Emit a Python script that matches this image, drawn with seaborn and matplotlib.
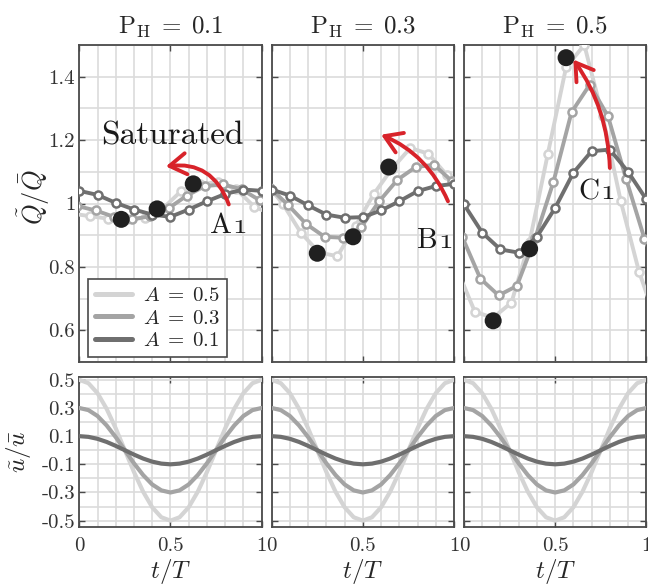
import numpy as np
import pandas as pd
import matplotlib
matplotlib.use("Agg")
import matplotlib.pyplot as plt
import seaborn as sns
from matplotlib.lines import Line2D
from matplotlib.patches import FancyArrowPatch
from matplotlib.ticker import MultipleLocator

# ---------------- data ----------------
ph_labels = ["0.1", "0.3", "0.5"]
amp_labels = ["0.5", "0.3", "0.1"]
amp_colors = ["#d4d4d4", "#a4a4a4", "#6f6f6f"]

# sample phases (t/T) of the measured points for each forcing amplitude
t_a05 = [-0.04, 0.06, 0.16, 0.26, 0.36, 0.46, 0.56, 0.66, 0.76, 0.86, 0.96, 1.06]
t_a03 = [-0.01, 0.09, 0.19, 0.29, 0.39, 0.49, 0.59, 0.69, 0.79, 0.89, 0.99, 1.09]
t_a01 = [0.0, 0.1, 0.2, 0.3, 0.4, 0.5, 0.6, 0.7, 0.8, 0.9, 1.0]

# heat release response Q~/Q-  (P_H = 0.1)
q_p01_a05 = [0.968, 0.960, 0.952, 0.950, 0.955, 0.985, 1.040, 1.060, 1.068, 1.045, 0.990, 0.965]
q_p01_a03 = [0.992, 0.978, 0.958, 0.950, 0.960, 0.985, 1.025, 1.055, 1.060, 1.045, 1.010, 0.985]
q_p01_a01 = [1.040, 1.027, 1.002, 0.981, 0.965, 0.958, 0.981, 1.007, 1.030, 1.044, 1.040]
# (P_H = 0.3)
q_p03_a05 = [1.070, 1.000, 0.908, 0.845, 0.834, 0.929, 1.030, 1.110, 1.175, 1.157, 1.090, 1.010]
q_p03_a03 = [1.050, 0.995, 0.935, 0.895, 0.892, 0.925, 1.007, 1.075, 1.115, 1.122, 1.070, 1.020]
q_p03_a01 = [1.044, 1.025, 0.994, 0.965, 0.955, 0.957, 0.978, 1.007, 1.039, 1.055, 1.062]
# (P_H = 0.5)
q_p05_a05 = [0.795, 0.658, 0.640, 0.687, 0.880, 1.157, 1.430, 1.500, 1.277, 1.007, 0.785, 0.620]
q_p05_a03 = [0.895, 0.763, 0.710, 0.740, 0.890, 1.067, 1.288, 1.375, 1.275, 1.076, 0.889, 0.750]
q_p05_a01 = [0.997, 0.908, 0.855, 0.845, 0.895, 0.986, 1.097, 1.165, 1.170, 1.100, 1.013]

# saturated points (black dots)
dot_t_p01 = [0.23, 0.427, 0.625]
dot_q_p01 = [0.950, 0.983, 1.062]
dot_t_p03 = [0.25, 0.446, 0.642]
dot_q_p03 = [0.843, 0.895, 1.115]
dot_t_p05 = [0.16, 0.36, 0.56]
dot_q_p05 = [0.630, 0.857, 1.460]

# velocity forcing u~/u-
t_u = [0.0, 0.05, 0.1, 0.15, 0.2, 0.25, 0.3, 0.35, 0.4, 0.45, 0.5,
       0.55, 0.6, 0.65, 0.7, 0.75, 0.8, 0.85, 0.9, 0.95, 1.0]
u_a05 = [0.5, 0.476, 0.405, 0.294, 0.155, 0.0, -0.155, -0.294, -0.405, -0.476, -0.5,
         -0.476, -0.405, -0.294, -0.155, 0.0, 0.155, 0.294, 0.405, 0.476, 0.5]
u_a03 = [0.3, 0.285, 0.243, 0.176, 0.093, 0.0, -0.093, -0.176, -0.243, -0.285, -0.3,
         -0.285, -0.243, -0.176, -0.093, 0.0, 0.093, 0.176, 0.243, 0.285, 0.3]
u_a01 = [0.1, 0.095, 0.081, 0.059, 0.031, 0.0, -0.031, -0.059, -0.081, -0.095, -0.1,
         -0.095, -0.081, -0.059, -0.031, 0.0, 0.031, 0.059, 0.081, 0.095, 0.1]

q_ticks = [0.6, 0.8, 1.0, 1.2, 1.4]
q_ticklabels = ["0.6", "0.8", "1", "1.2", "1.4"]
u_ticks = [-0.5, -0.3, -0.1, 0.1, 0.3, 0.5]
u_ticklabels = ["-0.5", "-0.3", "-0.1", "0.1", "0.3", "0.5"]
t_ticks = [0.0, 0.5, 1.0]
t_ticklabels = ["0", "0.5", "1"]

point_letters = ["A", "B", "C"]

panel_series = [
    [(t_a05, q_p01_a05), (t_a03, q_p01_a03), (t_a01, q_p01_a01)],
    [(t_a05, q_p03_a05), (t_a03, q_p03_a03), (t_a01, q_p03_a01)],
    [(t_a05, q_p05_a05), (t_a03, q_p05_a03), (t_a01, q_p05_a01)],
]
panel_dots = [(dot_t_p01, dot_q_p01), (dot_t_p03, dot_q_p03), (dot_t_p05, dot_q_p05)]
u_series = [u_a05, u_a03, u_a01]

# ---------------- style ----------------
sns.set_theme(style="white")
plt.rcParams["font.family"] = ["cmr10", "DejaVu Serif"]
plt.rcParams["mathtext.fontset"] = "cm"
plt.rcParams["axes.unicode_minus"] = False
plt.rcParams["axes.formatter.use_mathtext"] = True

spine_c = "#4a4a4a"
grid_c = "#dcdcdc"
tick_c = "#333333"
red = "#d8232a"
txt_c = "#1a1a1a"

fig = plt.figure(figsize=(6.48, 5.86), dpi=100)
W, H = 648.0, 586.0
lefts = [79.3, 271.7, 464.0]
pw = 182.3
top_y0, top_y1 = 45.0, 362.0
bot_y0, bot_y1 = 377.0, 527.0


def style_axes(ax):
    for s in ax.spines.values():
        s.set_color(spine_c)
        s.set_linewidth(1.3)
        s.set_visible(True)
    ax.grid(True, which="both", color=grid_c, linewidth=1.2)
    ax.set_axisbelow(True)
    ax.tick_params(which="major", direction="in", length=4, width=1.0, color=spine_c,
                   top=True, right=True, bottom=True, left=True,
                   labelsize=15, labelcolor=tick_c)
    ax.tick_params(which="minor", length=0)
    ax.tick_params(axis="y", pad=3)
    ax.tick_params(axis="x", pad=7)


top_axes, bot_axes = [], []
for i in range(3):
    axt = fig.add_axes([lefts[i] / W, 1 - top_y1 / H, pw / W, (top_y1 - top_y0) / H])
    axb = fig.add_axes([lefts[i] / W, 1 - bot_y1 / H, pw / W, (bot_y1 - bot_y0) / H])
    top_axes.append(axt)
    bot_axes.append(axb)

    # top: heat release response
    for (tt, qq), col in zip(panel_series[i], amp_colors):
        sns.lineplot(x=tt, y=qq, ax=axt, color=col, linewidth=2.8, marker="o",
                     markersize=5.8, markerfacecolor="white", markeredgecolor=col,
                     markeredgewidth=1.8, sort=False, estimator=None, legend=False,
                     zorder=3)
    dt, dq = panel_dots[i]
    sns.scatterplot(x=dt, y=dq, ax=axt, s=150, color="#202020", edgecolor="none",
                    zorder=6, legend=False)
    axt.set_xlim(0, 1)
    axt.set_ylim(0.5, 1.5)
    axt.set_xticks(t_ticks)
    axt.set_xticklabels([])
    axt.set_yticks(q_ticks)
    axt.xaxis.set_minor_locator(MultipleLocator(0.1))
    axt.yaxis.set_minor_locator(MultipleLocator(0.1))
    style_axes(axt)
    if i == 0:
        axt.set_yticklabels(q_ticklabels)
    else:
        axt.set_yticklabels([])
    axt.set_xlabel("")
    axt.set_ylabel("")
    axt.set_title(r"$\mathrm{P}_\mathrm{H}\;=\;%s$" % ph_labels[i], fontsize=18,
                  color="#262626", pad=8)

    # bottom: velocity forcing
    for uu, col in zip(u_series, amp_colors):
        sns.lineplot(x=t_u, y=uu, ax=axb, color=col, linewidth=3.0, sort=False,
                     estimator=None, legend=False, zorder=3)
    axb.set_xlim(0, 1)
    axb.set_ylim(-0.545, 0.52)
    axb.set_xticks(t_ticks)
    axb.set_xticklabels(t_ticklabels)
    axb.set_yticks(u_ticks)
    axb.xaxis.set_minor_locator(MultipleLocator(0.1))
    axb.yaxis.set_minor_locator(MultipleLocator(0.1))
    style_axes(axb)
    if i == 0:
        axb.set_yticklabels(u_ticklabels)
    else:
        axb.set_yticklabels([])
    axb.set_xlabel(r"$t/T$", fontsize=18, color="#262626", labelpad=2)
    axb.set_ylabel("")

# y labels
top_axes[0].set_ylabel(r"$\tilde{Q}/\bar{Q}$", fontsize=19, color="#262626")
top_axes[0].yaxis.set_label_coords(-0.15, 0.52)
bot_axes[0].set_ylabel(r"$\tilde{u}/\bar{u}$", fontsize=18, color="#262626")
bot_axes[0].yaxis.set_label_coords(-0.255, 0.5)

# legend
handles = [Line2D([0], [0], color=c, lw=3.6) for c in amp_colors]
labels = [r"$A\;=\;%s$" % a for a in amp_labels]
leg = top_axes[0].legend(handles, labels, loc="lower left",
                         bbox_to_anchor=(0.045, 0.015), fontsize=15,
                         handlelength=1.8, handletextpad=0.5, labelspacing=0.18,
                         borderpad=0.35, frameon=True, fancybox=False,
                         borderaxespad=0.0)
leg.get_frame().set_edgecolor(spine_c)
leg.get_frame().set_linewidth(1.2)
leg.get_frame().set_facecolor("white")
leg.get_frame().set_alpha(1.0)
leg.set_zorder(10)

# annotations
a0, a1, a2 = top_axes
a0.text(0.12, 1.186, "Saturated", fontsize=24, color=txt_c, zorder=8)

label_pos = [(a0, 0.715, 0.908), (a1, 0.795, 0.860), (a2, 0.630, 1.013)]
for (ax, lx, ly), letter in zip(label_pos, point_letters):
    tA = ax.text(lx, ly, letter, fontsize=21, color=txt_c, zorder=8,
                 va="baseline")
    ax.annotate("1", xy=(1.0, 0.0), xycoords=tA, xytext=(0.5, 0.0),
                textcoords="offset points", fontsize=21, color=txt_c,
                family="cmmi10", va="bottom", ha="left", zorder=8,
                annotation_clip=False)

arrows = [
    (a0, (0.82, 0.997), (0.475, 1.117), 0.4),
    (a1, (0.967, 1.007), (0.60, 1.217), 0.2),
    (a2, (0.80, 1.112), (0.60, 1.454), 0.15),
]
for ax, pa, pb, rad in arrows:
    arr = FancyArrowPatch(pa, pb, connectionstyle="arc3,rad=%s" % rad,
                          arrowstyle="->,head_length=0.6,head_width=0.38",
                          mutation_scale=20, color=red, lw=2.8, zorder=9,
                          shrinkA=0, shrinkB=0, clip_on=False)
    ax.add_patch(arr)

fig.savefig("out.png", dpi=100)
